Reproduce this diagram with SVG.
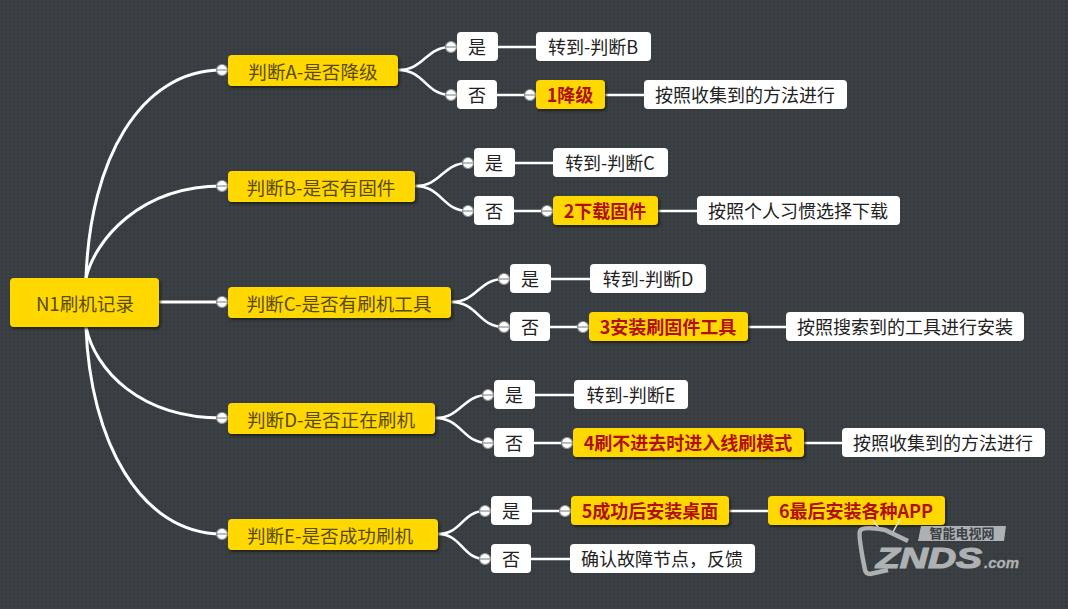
<svg xmlns="http://www.w3.org/2000/svg" width="1068" height="609" viewBox="0 0 1068 609">
<style>
text{font-family:"Noto Sans CJK SC","Liberation Sans",sans-serif;font-size:18px;text-anchor:middle;dominant-baseline:central}
.y{fill:#ffd800;filter:url(#s)}
.w{fill:#fff}
.yt{fill:#5a4a10;font-size:18.6px}
.wt{fill:#222}
.rt{fill:#b01010;font-weight:700}
.c path,.c line{fill:none;stroke:#fff;stroke-width:2.6}
.c .r{stroke-width:3}
.kc{fill:#fff;stroke:#8b8f90;stroke-width:1.2}
.kl{stroke:#8b8f90;stroke-width:1.2}
.wm{font-family:"Liberation Sans",sans-serif;font-weight:700;font-style:italic;text-anchor:start;dominant-baseline:auto;stroke:#aeb1b2}
</style>
<defs>
<pattern id="p" width="4" height="4" patternUnits="userSpaceOnUse"><rect width="4" height="4" fill="#3a4044"/><rect x="1" y="1" width="2" height="2" fill="#34393d"/></pattern>
<filter id="s" x="-5%" y="-10%" width="110%" height="130%"><feDropShadow dx="1.5" dy="2" stdDeviation="1" flood-color="#1a1a10" flood-opacity=".8"/></filter>
<g id="m"><circle class="kc" r="5.5"/><line class="kl" x1="-5" x2="5"/></g>
</defs>
<rect width="1068" height="609" fill="url(#p)"/>
<g class="c" id="connectors">
<path class="r" d="M86 278C90 160 140 70 222 70"/>
<path class="r" d="M86 278C95 240 140 186 222 186"/>
<path class="r" d="M159 302H222"/>
<path class="r" d="M86 327C95 370 140 418 222 418"/>
<path class="r" d="M86 327C90 440 140 534 222 534"/>
<path d="M398 70C425 70 425 47 451 47"/><path d="M398 70C425 70 425 95 451 95"/>
<path d="M415 186C442 186 442 163 468 163"/><path d="M415 186C442 186 442 211 468 211"/>
<path d="M451 302C478 302 478 279 504 279"/><path d="M451 302C478 302 478 327 504 327"/>
<path d="M435 418C462 418 462 395 488 395"/><path d="M435 418C462 418 462 443 488 443"/>
<path d="M438 534C462 534 462 511 485 511"/><path d="M438 534C462 534 462 559 485 559"/>
<line x1="498" y1="47" x2="536" y2="47"/><line x1="497" y1="95" x2="536" y2="95"/><line x1="605" y1="95" x2="644" y2="95"/>
<line x1="515" y1="163" x2="553" y2="163"/><line x1="514" y1="211" x2="553" y2="211"/><line x1="658" y1="211" x2="697" y2="211"/>
<line x1="551" y1="279" x2="590" y2="279"/><line x1="550" y1="327" x2="589" y2="327"/><line x1="748" y1="327" x2="786" y2="327"/>
<line x1="535" y1="395" x2="574" y2="395"/><line x1="534" y1="443" x2="573" y2="443"/><line x1="804" y1="443" x2="842" y2="443"/>
<line x1="532" y1="511" x2="571" y2="511"/><line x1="531" y1="559" x2="570" y2="559"/><line x1="729" y1="511" x2="768" y2="511"/>
</g>
<g id="collapsers">
<use href="#m" x="222" y="70"/><use href="#m" x="222" y="186"/><use href="#m" x="222" y="302"/><use href="#m" x="222" y="418"/><use href="#m" x="222" y="534"/>
<use href="#m" x="451" y="47"/><use href="#m" x="451" y="95"/><use href="#m" x="468" y="163"/><use href="#m" x="468" y="211"/><use href="#m" x="504" y="279"/><use href="#m" x="504" y="327"/><use href="#m" x="488" y="395"/><use href="#m" x="488" y="443"/><use href="#m" x="485" y="511"/><use href="#m" x="485" y="559"/>
<use href="#m" x="530" y="95"/><use href="#m" x="547" y="211"/><use href="#m" x="583" y="327"/><use href="#m" x="567" y="443"/><use href="#m" x="565" y="511"/>
</g>
<g id="root"><rect class="y" x="10" y="278" width="149" height="49" rx="4"/><text class="yt" x="85" y="302">N1刷机记录</text></g>
<g id="nA"><rect class="y" x="228" y="55" width="170" height="31" rx="4"/><text class="yt" x="313" y="70">判断A-是否降级</text></g>
<g id="nB"><rect class="y" x="228" y="171" width="187" height="31" rx="4"/><text class="yt" x="321" y="186">判断B-是否有固件</text></g>
<g id="nC"><rect class="y" x="228" y="287" width="223" height="31" rx="4"/><text class="yt" x="339" y="302">判断C-是否有刷机工具</text></g>
<g id="nD"><rect class="y" x="228" y="403" width="207" height="31" rx="4"/><text class="yt" x="331" y="418">判断D-是否正在刷机</text></g>
<g id="nE"><rect class="y" x="228" y="519" width="210" height="31" rx="4"/><text class="yt" x="330" y="534">判断E-是否成功刷机</text></g>
<g id="aY"><rect class="w" x="457" y="32" width="41" height="29" rx="4"/><text class="wt" x="477" y="46">是</text></g>
<g id="aN"><rect class="w" x="457" y="80" width="40" height="29" rx="4"/><text class="wt" x="477" y="94">否</text></g>
<g id="bY"><rect class="w" x="474" y="148" width="41" height="29" rx="4"/><text class="wt" x="494" y="162">是</text></g>
<g id="bN"><rect class="w" x="474" y="196" width="40" height="29" rx="4"/><text class="wt" x="494" y="210">否</text></g>
<g id="cY"><rect class="w" x="510" y="264" width="41" height="29" rx="4"/><text class="wt" x="530" y="278">是</text></g>
<g id="cN"><rect class="w" x="510" y="312" width="40" height="29" rx="4"/><text class="wt" x="530" y="326">否</text></g>
<g id="dY"><rect class="w" x="494" y="380" width="41" height="29" rx="4"/><text class="wt" x="514" y="394">是</text></g>
<g id="dN"><rect class="w" x="494" y="428" width="40" height="29" rx="4"/><text class="wt" x="514" y="442">否</text></g>
<g id="eY"><rect class="w" x="491" y="496" width="41" height="29" rx="4"/><text class="wt" x="511" y="510">是</text></g>
<g id="eN"><rect class="w" x="491" y="544" width="40" height="29" rx="4"/><text class="wt" x="511" y="558">否</text></g>
<g id="a1"><rect class="w" x="536" y="32" width="115" height="29" rx="4"/><text class="wt" x="593" y="46">转到-判断B</text></g>
<g id="a2"><rect class="y" x="536" y="80" width="69" height="29" rx="4"/><text class="rt" x="570" y="94">1降级</text></g>
<g id="a3"><rect class="w" x="644" y="80" width="203" height="29" rx="4"/><text class="wt" x="745" y="94">按照收集到的方法进行</text></g>
<g id="b1"><rect class="w" x="553" y="148" width="115" height="29" rx="4"/><text class="wt" x="610" y="162">转到-判断C</text></g>
<g id="b2"><rect class="y" x="553" y="196" width="105" height="29" rx="4"/><text class="rt" x="605" y="210">2下载固件</text></g>
<g id="b3"><rect class="w" x="697" y="196" width="203" height="29" rx="4"/><text class="wt" x="798" y="210">按照个人习惯选择下载</text></g>
<g id="c1"><rect class="w" x="590" y="264" width="116" height="29" rx="4"/><text class="wt" x="648" y="278">转到-判断D</text></g>
<g id="c2"><rect class="y" x="589" y="312" width="159" height="29" rx="4"/><text class="rt" x="668" y="326">3安装刷固件工具</text></g>
<g id="c3"><rect class="w" x="786" y="312" width="238" height="29" rx="4"/><text class="wt" x="905" y="326">按照搜索到的工具进行安装</text></g>
<g id="d1"><rect class="w" x="574" y="380" width="114" height="29" rx="4"/><text class="wt" x="631" y="394">转到-判断E</text></g>
<g id="d2"><rect class="y" x="573" y="428" width="231" height="29" rx="4"/><text class="rt" x="688" y="442">4刷不进去时进入线刷模式</text></g>
<g id="d3"><rect class="w" x="842" y="428" width="203" height="29" rx="4"/><text class="wt" x="943" y="442">按照收集到的方法进行</text></g>
<g id="e1"><rect class="y" x="571" y="496" width="158" height="29" rx="4"/><text class="rt" x="650" y="510">5成功后安装桌面</text></g>
<g id="e2"><rect class="y" x="768" y="496" width="177" height="29" rx="4"/><text class="rt" x="856" y="510">6最后安装各种APP</text></g>
<g id="e3"><rect class="w" x="570" y="544" width="185" height="29" rx="4"/><text class="wt" x="662" y="558">确认故障节点，反馈</text></g>
<g id="watermark" fill="#aeb1b2">
<path d="M873 520L880 530M900 519L893 532" stroke="#e8e6c8" stroke-width="1.5" fill="none"/>
<path d="M908 541L885 530Q862 526 860 531Q858 535 865 570Q866 574 870 574L888 570" fill="none" stroke="#aeb1b2" stroke-width="4.5"/>
<path d="M921 526H1006L1004 541H918Z"/>
<text x="962" y="532.5" fill="#3a4044" style="font-size:13px;font-weight:700">智能电视网</text>
<text class="wm" x="876" y="568" textLength="106" lengthAdjust="spacingAndGlyphs" stroke-width="1.2" style="font-size:30px">ZNDS</text>
<text class="wm" x="984" y="568" textLength="35" lengthAdjust="spacingAndGlyphs" stroke-width=".3" style="font-size:14px">.com</text>
</g>
</svg>
